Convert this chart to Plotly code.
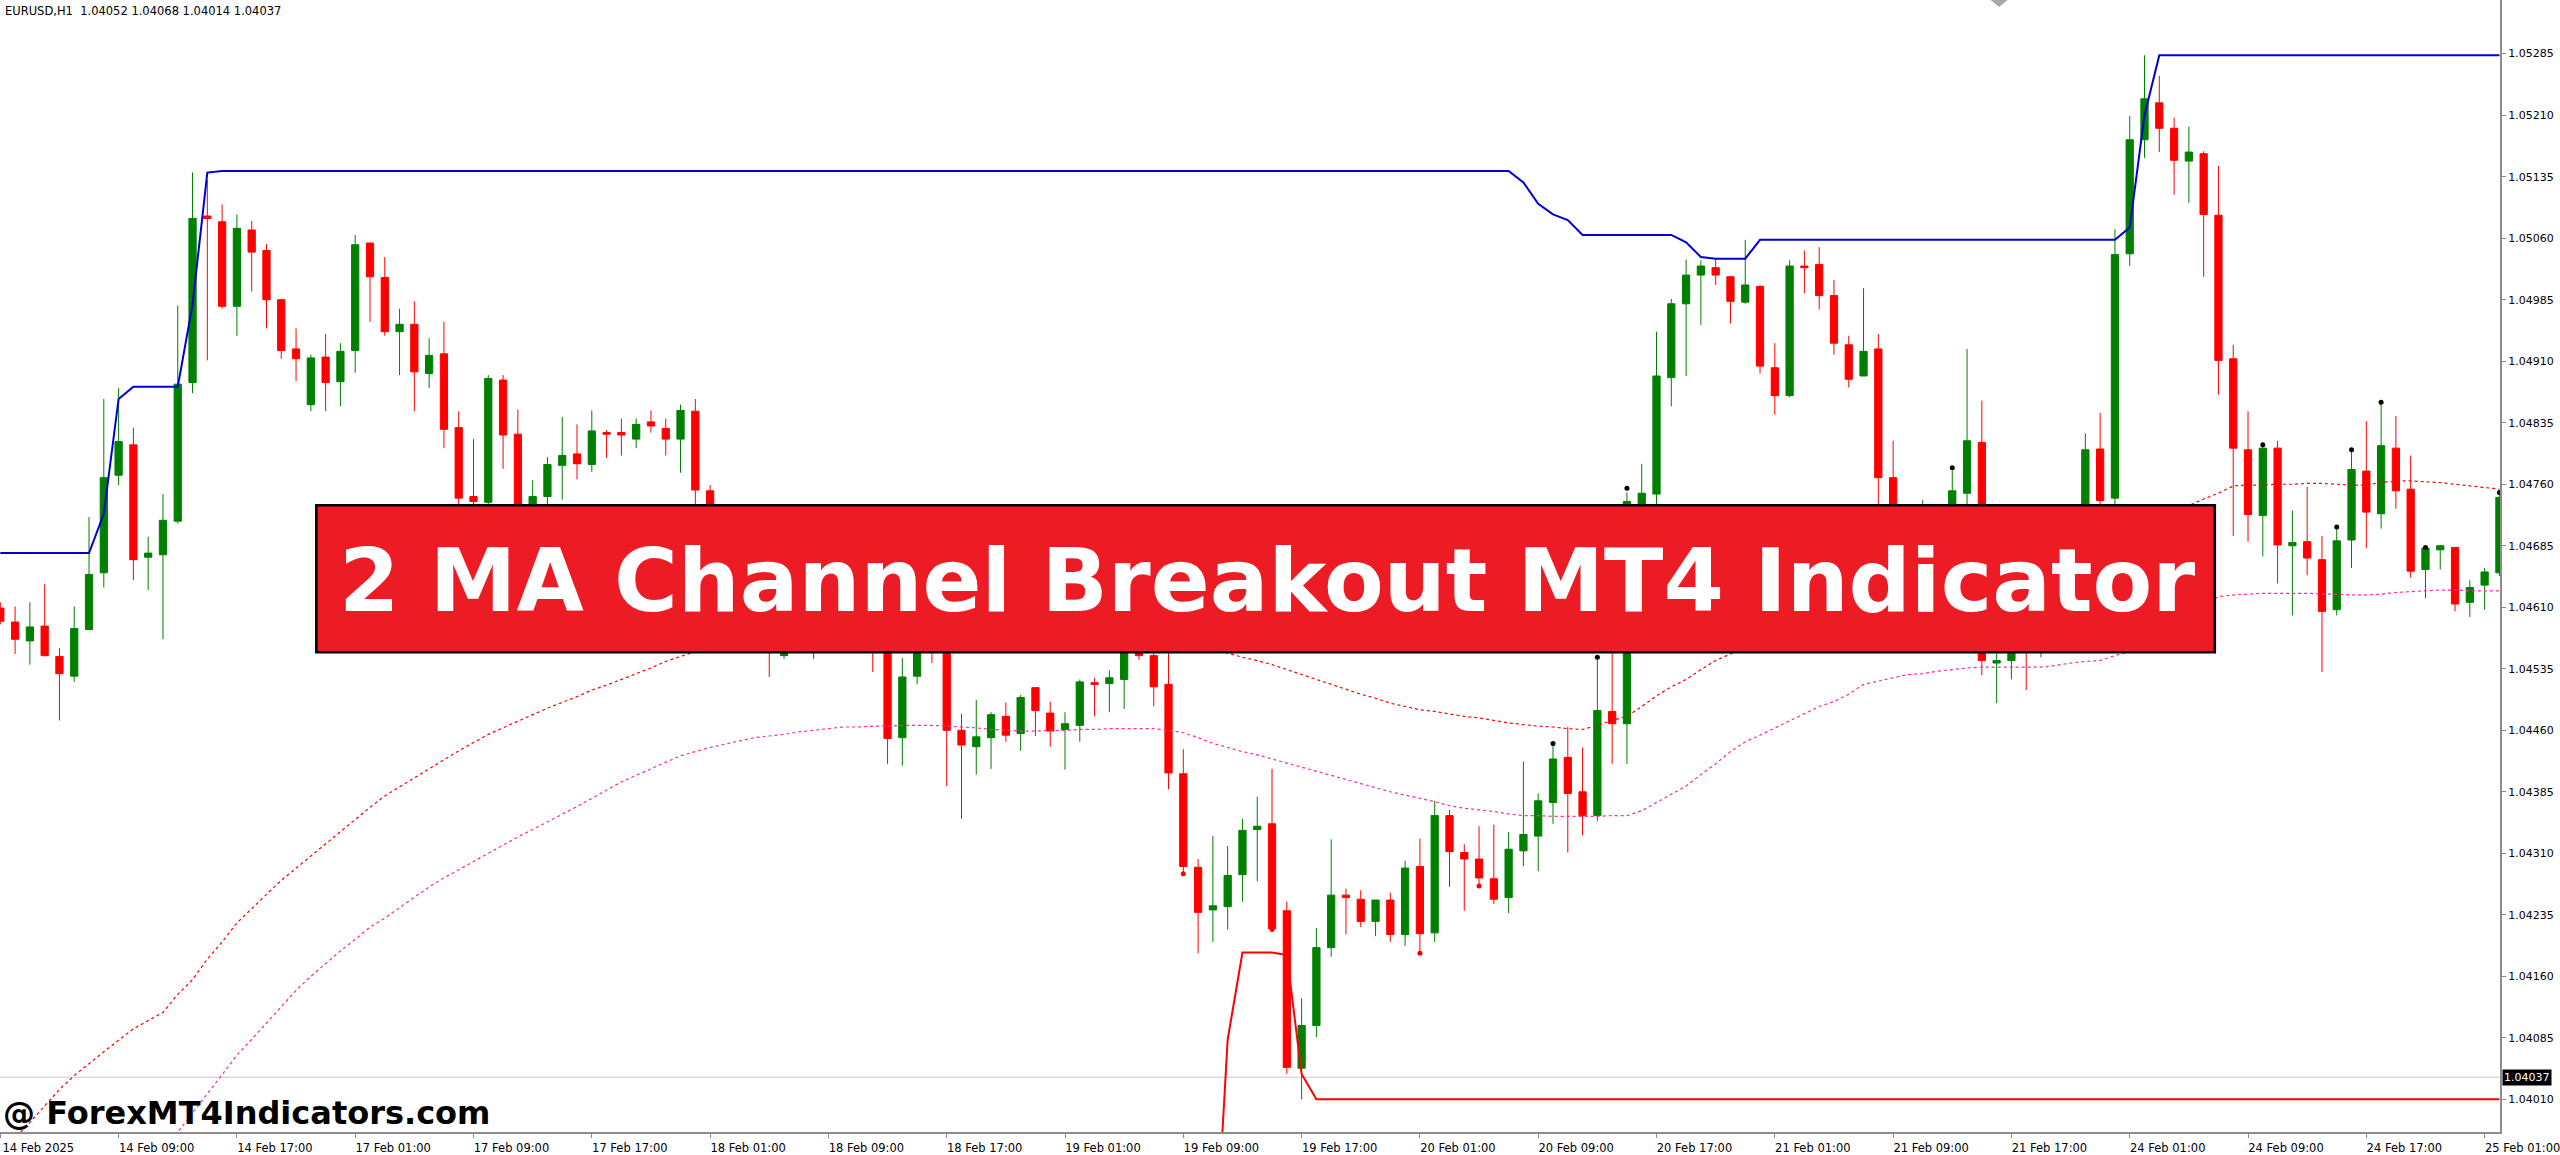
import plotly.graph_objects as go

# ---------------- data (EURUSD, H1) ----------------
open_ = [
    1.04609, 1.04592, 1.04569, 1.04587, 1.04550, 1.04526, 1.04583, 1.04652, 1.04771, 1.04808,
    1.04671, 1.04674, 1.04715, 1.04884, 1.05087, 1.05080, 1.04977, 1.05070, 1.05045, 1.04985,
    1.04925, 1.04857, 1.04915, 1.04885, 1.04923, 1.05054, 1.05012, 1.04946, 1.04955, 1.04895,
    1.04919, 1.04829, 1.04745, 1.04738, 1.04887, 1.04821, 1.04719, 1.04745, 1.04783, 1.04797,
    1.04784, 1.04823, 1.04823, 1.04815, 1.04836, 1.04828, 1.04815, 1.04849, 1.04752, 1.04706,
    1.04670, 1.04692, 1.04634, 1.04551, 1.04594, 1.04580, 1.04571, 1.04607, 1.04589, 1.04571,
    1.04562, 1.04451, 1.04526, 1.04580, 1.04562, 1.04460, 1.04440, 1.04451, 1.04477, 1.04456,
    1.04512, 1.04481, 1.04461, 1.04466, 1.04518, 1.04517, 1.04522, 1.04571, 1.04551, 1.04516,
    1.04407, 1.04293, 1.04241, 1.04245, 1.04284, 1.04339, 1.04346, 1.04240, 1.04048, 1.04100,
    1.04195, 1.04259, 1.04254, 1.04227, 1.04253, 1.04211, 1.04294, 1.04213, 1.04356, 1.04311,
    1.04303, 1.04279, 1.04256, 1.04313, 1.04331, 1.04372, 1.04427, 1.04385, 1.04356, 1.04483,
    1.04468, 1.04733, 1.04748, 1.04890, 1.04980, 1.05015, 1.05024, 1.05013, 1.04982, 1.05001,
    1.04902, 1.04868, 1.05026, 1.05028, 1.04990, 1.04930, 1.04892, 1.04925, 1.04768, 1.04706,
    1.04661, 1.04706, 1.04688, 1.04749, 1.04811, 1.04542, 1.04545, 1.04562, 1.04558, 1.04589,
    1.04643, 1.04607, 1.04803, 1.04743, 1.05041, 1.05180, 1.05225, 1.05194, 1.05154, 1.05163,
    1.05088, 1.04913, 1.04802, 1.04722, 1.04804, 1.04685, 1.04690, 1.04668, 1.04607, 1.04692,
    1.04776, 1.04724, 1.04804, 1.04754, 1.04656, 1.04680, 1.04683, 1.04616, 1.04637, 1.04652,
]
high = [
    1.04616, 1.04611, 1.04616, 1.04638, 1.04560, 1.04611, 1.04720, 1.04864, 1.04877, 1.04829,
    1.04696, 1.04748, 1.04978, 1.05140, 1.05131, 1.05101, 1.05089, 1.05081, 1.05053, 1.04985,
    1.04950, 1.04918, 1.04943, 1.04932, 1.05064, 1.05055, 1.05037, 1.04974, 1.04983, 1.04938,
    1.04958, 1.04849, 1.04815, 1.04893, 1.04893, 1.04851, 1.04765, 1.04793, 1.04842, 1.04833,
    1.04850, 1.04826, 1.04840, 1.04840, 1.04850, 1.04840, 1.04857, 1.04864, 1.04759, 1.04713,
    1.04701, 1.04699, 1.04643, 1.04607, 1.04616, 1.04594, 1.04621, 1.04621, 1.04603, 1.04585,
    1.04580, 1.04548, 1.04589, 1.04594, 1.04571, 1.04480, 1.04497, 1.04482, 1.04494, 1.04503,
    1.04512, 1.04495, 1.04482, 1.04522, 1.04524, 1.04533, 1.04571, 1.04580, 1.04567, 1.04562,
    1.04437, 1.04303, 1.04331, 1.04319, 1.04352, 1.04379, 1.04413, 1.04251, 1.04133, 1.04219,
    1.04327, 1.04267, 1.04265, 1.04253, 1.04262, 1.04301, 1.04328, 1.04374, 1.04363, 1.04321,
    1.04343, 1.04345, 1.04336, 1.04422, 1.04383, 1.04444, 1.04464, 1.04439, 1.04549, 1.04562,
    1.04750, 1.04785, 1.04946, 1.04986, 1.05034, 1.05033, 1.05034, 1.05013, 1.05058, 1.05003,
    1.04932, 1.05033, 1.05045, 1.05049, 1.05009, 1.04941, 1.04999, 1.04943, 1.04813, 1.04715,
    1.04741, 1.04724, 1.04777, 1.04925, 1.04862, 1.04580, 1.04580, 1.04589, 1.04603, 1.04652,
    1.04661, 1.04822, 1.04847, 1.05071, 1.05209, 1.05283, 1.05258, 1.05207, 1.05196, 1.05166,
    1.05148, 1.04930, 1.04849, 1.04808, 1.04813, 1.04728, 1.04757, 1.04697, 1.04708, 1.04802,
    1.04837, 1.04860, 1.04843, 1.04795, 1.04683, 1.04686, 1.04683, 1.04643, 1.04658, 1.04750,
]
low = [
    1.04589, 1.04553, 1.04540, 1.04550, 1.04472, 1.04519, 1.04582, 1.04634, 1.04759, 1.04643,
    1.04631, 1.04571, 1.04712, 1.04871, 1.04911, 1.04974, 1.04941, 1.04995, 1.04950, 1.04913,
    1.04886, 1.04849, 1.04849, 1.04855, 1.04896, 1.04958, 1.04941, 1.04893, 1.04849, 1.04877,
    1.04804, 1.04732, 1.04732, 1.04732, 1.04779, 1.04705, 1.04710, 1.04732, 1.04741, 1.04766,
    1.04775, 1.04792, 1.04795, 1.04804, 1.04823, 1.04795, 1.04774, 1.04723, 1.04687, 1.04656,
    1.04661, 1.04621, 1.04525, 1.04547, 1.04567, 1.04547, 1.04562, 1.04571, 1.04558, 1.04531,
    1.04419, 1.04417, 1.04516, 1.04542, 1.04392, 1.04352, 1.04406, 1.04413, 1.04446, 1.04435,
    1.04453, 1.04440, 1.04412, 1.04446, 1.04477, 1.04482, 1.04486, 1.04546, 1.04489, 1.04388,
    1.04285, 1.04188, 1.04202, 1.04217, 1.04251, 1.04276, 1.04215, 1.04041, 1.04010, 1.04086,
    1.04184, 1.04211, 1.04220, 1.04209, 1.04202, 1.04197, 1.04188, 1.04202, 1.04269, 1.04240,
    1.04270, 1.04248, 1.04237, 1.04294, 1.04288, 1.04346, 1.04311, 1.04332, 1.04349, 1.04419,
    1.04419, 1.04724, 1.04733, 1.04855, 1.04892, 1.04954, 1.05003, 1.04956, 1.04980, 1.04895,
    1.04845, 1.04866, 1.04993, 1.04973, 1.04918, 1.04878, 1.04892, 1.04733, 1.04688, 1.04652,
    1.04643, 1.04661, 1.04670, 1.04724, 1.04527, 1.04493, 1.04522, 1.04509, 1.04549, 1.04580,
    1.04589, 1.04598, 1.04724, 1.04733, 1.05026, 1.05158, 1.05165, 1.05113, 1.05103, 1.05013,
    1.04869, 1.04697, 1.04690, 1.04672, 1.04639, 1.04600, 1.04649, 1.04531, 1.04600, 1.04658,
    1.04682, 1.04706, 1.04730, 1.04646, 1.04621, 1.04656, 1.04605, 1.04598, 1.04607, 1.04648,
]
close = [
    1.04593, 1.04571, 1.04586, 1.04551, 1.04529, 1.04584, 1.04650, 1.04768, 1.04812, 1.04668,
    1.04676, 1.04716, 1.04882, 1.05084, 1.05084, 1.04977, 1.05072, 1.05043, 1.04985, 1.04923,
    1.04913, 1.04914, 1.04884, 1.04922, 1.05052, 1.05013, 1.04946, 1.04955, 1.04897, 1.04917,
    1.04827, 1.04743, 1.04739, 1.04889, 1.04820, 1.04723, 1.04745, 1.04784, 1.04795, 1.04785,
    1.04825, 1.04821, 1.04820, 1.04833, 1.04831, 1.04815, 1.04850, 1.04753, 1.04705, 1.04670,
    1.04692, 1.04634, 1.04558, 1.04594, 1.04580, 1.04571, 1.04607, 1.04589, 1.04571, 1.04562,
    1.04450, 1.04525, 1.04580, 1.04558, 1.04460, 1.04442, 1.04452, 1.04479, 1.04454, 1.04500,
    1.04484, 1.04459, 1.04468, 1.04519, 1.04516, 1.04524, 1.04561, 1.04551, 1.04513, 1.04408,
    1.04294, 1.04238, 1.04246, 1.04283, 1.04338, 1.04343, 1.04218, 1.04049, 1.04100, 1.04195,
    1.04259, 1.04256, 1.04227, 1.04253, 1.04211, 1.04292, 1.04212, 1.04356, 1.04312, 1.04303,
    1.04280, 1.04254, 1.04315, 1.04333, 1.04374, 1.04425, 1.04383, 1.04356, 1.04484, 1.04468,
    1.04739, 1.04749, 1.04892, 1.04980, 1.05015, 1.05026, 1.05015, 1.04983, 1.05003, 1.04904,
    1.04868, 1.05026, 1.05024, 1.04990, 1.04932, 1.04888, 1.04922, 1.04768, 1.04706, 1.04670,
    1.04706, 1.04688, 1.04752, 1.04813, 1.04545, 1.04545, 1.04562, 1.04558, 1.04589, 1.04643,
    1.04607, 1.04802, 1.04740, 1.05040, 1.05180, 1.05230, 1.05194, 1.05155, 1.05165, 1.05089,
    1.04911, 1.04804, 1.04723, 1.04804, 1.04686, 1.04689, 1.04670, 1.04605, 1.04691, 1.04778,
    1.04726, 1.04807, 1.04752, 1.04654, 1.04682, 1.04685, 1.04614, 1.04634, 1.04653, 1.04744,
]

# upper moving average (red dotted)
ma_upper = [
    1.03943, 1.03962, 1.03982, 1.04002, 1.04022, 1.04039, 1.04054, 1.04068, 1.04082, 1.04096,
    1.04106, 1.04116, 1.04138, 1.04156, 1.04181, 1.04202, 1.04225, 1.04243, 1.04260, 1.04277,
    1.04292, 1.04306, 1.04321, 1.04336, 1.04351, 1.04366, 1.04380, 1.04391, 1.04403, 1.04414,
    1.04425, 1.04435, 1.04445, 1.04455, 1.04463, 1.04471, 1.04479, 1.04487, 1.04494, 1.04501,
    1.04509, 1.04515, 1.04522, 1.04529, 1.04536, 1.04544, 1.04550, 1.04556, 1.04561, 1.04565,
    1.04570, 1.04574, 1.04579, 1.04583, 1.04588, 1.04591, 1.04594, 1.04597, 1.04598, 1.04600,
    1.04602, 1.04603, 1.04604, 1.04605, 1.04605, 1.04605, 1.04604, 1.04603, 1.04602, 1.04600,
    1.04598, 1.04596, 1.04593, 1.04590, 1.04588, 1.04584, 1.04580, 1.04577, 1.04573, 1.04570,
    1.04566, 1.04562, 1.04559, 1.04554, 1.04549, 1.04545, 1.04540, 1.04534, 1.04528, 1.04522,
    1.04516, 1.04510, 1.04504, 1.04499, 1.04493, 1.04489, 1.04485, 1.04483, 1.04480, 1.04477,
    1.04475, 1.04472, 1.04469, 1.04467, 1.04465, 1.04464, 1.04462, 1.04461, 1.04466, 1.04472,
    1.04477, 1.04489, 1.04502, 1.04513, 1.04522, 1.04534, 1.04545, 1.04553, 1.04562, 1.04571,
    1.04579, 1.04587, 1.04594, 1.04602, 1.04609, 1.04616, 1.04623, 1.04630, 1.04636, 1.04642,
    1.04648, 1.04654, 1.04659, 1.04664, 1.04668, 1.04673, 1.04677, 1.04682, 1.04686, 1.04690,
    1.04695, 1.04699, 1.04704, 1.04708, 1.04713, 1.04718, 1.04724, 1.04729, 1.04734, 1.04742,
    1.04749, 1.04758, 1.04759, 1.04759, 1.04760, 1.04760, 1.04761, 1.04761, 1.04760, 1.04759,
    1.04759, 1.04762, 1.04764, 1.04764, 1.04763, 1.04762, 1.04760, 1.04758, 1.04756, 1.04754,
]
# lower moving average (pink dotted)
ma_lower = [
    1.03687, 1.03710, 1.03733, 1.03757, 1.03781, 1.03805, 1.03828, 1.03852, 1.03876, 1.03900,
    1.03923, 1.03947, 1.03970, 1.03994, 1.04017, 1.04040, 1.04064, 1.04083, 1.04103, 1.04123,
    1.04143, 1.04160, 1.04176, 1.04191, 1.04205, 1.04220, 1.04231, 1.04244, 1.04256, 1.04269,
    1.04280, 1.04290, 1.04300, 1.04311, 1.04321, 1.04330, 1.04339, 1.04348, 1.04357, 1.04367,
    1.04377, 1.04387, 1.04397, 1.04405, 1.04413, 1.04421, 1.04429, 1.04434, 1.04439, 1.04443,
    1.04447, 1.04451, 1.04453, 1.04455, 1.04458, 1.04460, 1.04462, 1.04464, 1.04464, 1.04465,
    1.04465, 1.04466, 1.04466, 1.04466, 1.04465, 1.04464, 1.04463, 1.04461, 1.04460, 1.04459,
    1.04459, 1.04460, 1.04460, 1.04461, 1.04461, 1.04462, 1.04462, 1.04462, 1.04462, 1.04460,
    1.04457, 1.04451, 1.04444, 1.04439, 1.04434, 1.04430, 1.04425, 1.04420, 1.04415, 1.04410,
    1.04405, 1.04400, 1.04395, 1.04390, 1.04385, 1.04381, 1.04377, 1.04373, 1.04368, 1.04365,
    1.04363, 1.04361, 1.04358, 1.04356, 1.04356, 1.04355, 1.04355, 1.04355, 1.04355, 1.04356,
    1.04356, 1.04362, 1.04372, 1.04382, 1.04392, 1.04406, 1.04419, 1.04434, 1.04446, 1.04454,
    1.04463, 1.04472, 1.04481, 1.04489, 1.04495, 1.04504, 1.04516, 1.04520, 1.04524, 1.04528,
    1.04529, 1.04532, 1.04534, 1.04536, 1.04537, 1.04537, 1.04537, 1.04537, 1.04537, 1.04539,
    1.04542, 1.04544, 1.04545, 1.04551, 1.04556, 1.04567, 1.04579, 1.04590, 1.04602, 1.04613,
    1.04623, 1.04625, 1.04626, 1.04627, 1.04627, 1.04627, 1.04627, 1.04626, 1.04626, 1.04625,
    1.04625, 1.04626, 1.04628, 1.04629, 1.04630, 1.04631, 1.04631, 1.04630, 1.04630, 1.04630,
]
# upper channel (blue solid)
channel_high = [
    1.04676, 1.04676, 1.04676, 1.04676, 1.04676, 1.04676, 1.04676, 1.04724, 1.04864, 1.04879,
    1.04879, 1.04879, 1.04879, 1.04979, 1.05140, 1.05142, 1.05142, 1.05142, 1.05142, 1.05142,
    1.05142, 1.05142, 1.05142, 1.05142, 1.05142, 1.05142, 1.05142, 1.05142, 1.05142, 1.05142,
    1.05142, 1.05142, 1.05142, 1.05142, 1.05142, 1.05142, 1.05142, 1.05142, 1.05142, 1.05142,
    1.05142, 1.05142, 1.05142, 1.05142, 1.05142, 1.05142, 1.05142, 1.05142, 1.05142, 1.05142,
    1.05142, 1.05142, 1.05142, 1.05142, 1.05142, 1.05142, 1.05142, 1.05142, 1.05142, 1.05142,
    1.05142, 1.05142, 1.05142, 1.05142, 1.05142, 1.05142, 1.05142, 1.05142, 1.05142, 1.05142,
    1.05142, 1.05142, 1.05142, 1.05142, 1.05142, 1.05142, 1.05142, 1.05142, 1.05142, 1.05142,
    1.05142, 1.05142, 1.05142, 1.05142, 1.05142, 1.05142, 1.05142, 1.05142, 1.05142, 1.05142,
    1.05142, 1.05142, 1.05142, 1.05142, 1.05142, 1.05142, 1.05142, 1.05142, 1.05142, 1.05142,
    1.05142, 1.05142, 1.05142, 1.05128, 1.05102, 1.05089, 1.05082, 1.05064, 1.05064, 1.05064,
    1.05064, 1.05064, 1.05064, 1.05064, 1.05055, 1.05037, 1.05035, 1.05035, 1.05035, 1.05058,
    1.05058, 1.05058, 1.05058, 1.05058, 1.05058, 1.05058, 1.05058, 1.05058, 1.05058, 1.05058,
    1.05058, 1.05058, 1.05058, 1.05058, 1.05058, 1.05058, 1.05058, 1.05058, 1.05058, 1.05058,
    1.05058, 1.05058, 1.05058, 1.05058, 1.05073, 1.05210, 1.05283, 1.05283, 1.05283, 1.05283,
    1.05283, 1.05283, 1.05283, 1.05283, 1.05283, 1.05283, 1.05283, 1.05283, 1.05283, 1.05283,
    1.05283, 1.05283, 1.05283, 1.05283, 1.05283, 1.05283, 1.05283, 1.05283, 1.05283, 1.05283,
]
# lower channel (red solid), only drawn from bar 82 on
channel_low = [None] * 82 + [
    1.03764, 1.04083, 1.04189, 1.04189, 1.04189, 1.04186, 1.04041, 1.04010,
    1.04010, 1.04010, 1.04010, 1.04010, 1.04010, 1.04010, 1.04010, 1.04010, 1.04010, 1.04010,
    1.04010, 1.04010, 1.04010, 1.04010, 1.04010, 1.04010, 1.04010, 1.04010, 1.04010, 1.04010,
    1.04010, 1.04010, 1.04010, 1.04010, 1.04010, 1.04010, 1.04010, 1.04010, 1.04010, 1.04010,
    1.04010, 1.04010, 1.04010, 1.04010, 1.04010, 1.04010, 1.04010, 1.04010, 1.04010, 1.04010,
    1.04010, 1.04010, 1.04010, 1.04010, 1.04010, 1.04010, 1.04010, 1.04010, 1.04010, 1.04010,
    1.04010, 1.04010, 1.04010, 1.04010, 1.04010, 1.04010, 1.04010, 1.04010, 1.04010, 1.04010,
    1.04010, 1.04010, 1.04010, 1.04010, 1.04010, 1.04010, 1.04010, 1.04010, 1.04010, 1.04010,
    1.04010, 1.04010, 1.04010, 1.04010, 1.04010, 1.04010, 1.04010, 1.04010, 1.04010, 1.04010,
]

# signal dots
up_dot_bars = [105, 108, 110, 132, 153, 158, 159, 161, 164, 169]
up_dot_price = [1.04444, 1.04549, 1.04755, 1.04780, 1.04808, 1.04708, 1.04802, 1.04860, 1.04683, 1.04750]
down_dot_bars = [80, 86, 96, 100]
down_dot_price = [1.04285, 1.04217, 1.04188, 1.04270]

# axis labels
time_labels = [
    "14 Feb 2025", "14 Feb 09:00", "14 Feb 17:00", "17 Feb 01:00", "17 Feb 09:00",
    "17 Feb 17:00", "18 Feb 01:00", "18 Feb 09:00", "18 Feb 17:00", "19 Feb 01:00",
    "19 Feb 09:00", "19 Feb 17:00", "20 Feb 01:00", "20 Feb 09:00", "20 Feb 17:00",
    "21 Feb 01:00", "21 Feb 09:00", "21 Feb 17:00", "24 Feb 01:00", "24 Feb 09:00",
    "24 Feb 17:00", "25 Feb 01:00",
]
time_label_bars = list(range(0, 8 * len(time_labels), 8))
price_labels = [
    "1.05285", "1.05210", "1.05135", "1.05060", "1.04985", "1.04910", "1.04835",
    "1.04760", "1.04685", "1.04610", "1.04535", "1.04460", "1.04385", "1.04310",
    "1.04235", "1.04160", "1.04085", "1.04010",
]
bid_price = 1.04037
header_text = "EURUSD,H1\u00a0 1.04052 1.04068 1.04014 1.04037"
banner_text = "2 MA Channel Breakout MT4 Indicator"
watermark_text = "@ ForexMT4Indicators.com"

bars = list(range(len(open_)))

# ---------------- figure ----------------
fig = go.Figure()

fig.add_trace(go.Candlestick(
    x=bars, open=open_, high=high, low=low, close=close,
    increasing=dict(line=dict(color="#008000", width=1), fillcolor="#008000"),
    decreasing=dict(line=dict(color="#ff0000", width=1), fillcolor="#ff0000"),
    whiskerwidth=0, hoverinfo="skip", showlegend=False,
))
fig.add_trace(go.Scatter(x=bars, y=ma_upper, mode="lines",
                         line=dict(color="#ff0000", width=1.2, dash="dot"),
                         hoverinfo="skip", showlegend=False))
fig.add_trace(go.Scatter(x=bars, y=ma_lower, mode="lines",
                         line=dict(color="#ff2a9e", width=1.2, dash="dot"),
                         hoverinfo="skip", showlegend=False))
fig.add_trace(go.Scatter(x=bars, y=channel_high, mode="lines",
                         line=dict(color="#0000d0", width=2),
                         hoverinfo="skip", showlegend=False))
fig.add_trace(go.Scatter(x=bars, y=channel_low, mode="lines",
                         line=dict(color="#ff0000", width=2),
                         hoverinfo="skip", showlegend=False))
fig.add_trace(go.Scatter(x=up_dot_bars, y=up_dot_price, mode="markers",
                         marker=dict(color="black", size=5, symbol="circle"),
                         hoverinfo="skip", showlegend=False))
fig.add_trace(go.Scatter(x=down_dot_bars, y=down_dot_price, mode="markers",
                         marker=dict(color="#ff0000", size=5, symbol="circle"),
                         hoverinfo="skip", showlegend=False))

W, H = 2560, 1155
plot_w, plot_h = 2503, 1135

shapes = [
    # bid line
    dict(type="line", xref="paper", x0=0, x1=1, yref="y", y0=bid_price, y1=bid_price,
         line=dict(color="#c8c8c8", width=1), layer="below"),
    # chart-shift marker
    dict(type="path", xref="paper", yref="paper",
         path=f"M {1993/plot_w},1 L {2010/plot_w},1 L {2001.5/plot_w},{1-7/plot_h} Z",
         fillcolor="#a8a8a8", line=dict(width=0), layer="above"),
    # title banner
    dict(type="rect", xref="paper", yref="paper",
         x0=316.7 / plot_w, x1=2217.5 / plot_w,
         y0=1 - 654 / plot_h, y1=1 - 506.7 / plot_h,
         fillcolor="#ed1c24", line=dict(color="black", width=2.5), layer="above"),
]

annotations = [
    dict(text=header_text, xref="paper", yref="paper", x=3 / plot_w, y=1 - 11 / plot_h,
         xanchor="left", yanchor="middle", showarrow=False,
         font=dict(family="DejaVu Sans", size=11.5, color="black")),
    dict(text="<b>" + banner_text + "</b>", xref="paper", yref="paper",
         x=1269 / plot_w, y=1 - 583 / plot_h, xanchor="center", yanchor="middle",
         showarrow=False, font=dict(family="DejaVu Sans", size=87, color="white")),
    dict(text="<b>" + watermark_text + "</b>", xref="paper", yref="paper",
         x=1 / plot_w, y=1 - 1116 / plot_h, xanchor="left", yanchor="middle",
         showarrow=False, font=dict(family="DejaVu Sans", size=32, color="black")),
    dict(text=f"{bid_price:.5f}", xref="paper", yref="y", x=1, xshift=2, y=bid_price,
         xanchor="left", yanchor="middle", showarrow=False, bgcolor="black", borderpad=1,
         font=dict(family="DejaVu Sans", size=11, color="white")),
]

fig.update_layout(
    width=W, height=H,
    margin=dict(l=0, r=W - plot_w, t=0, b=H - plot_h, pad=0),
    paper_bgcolor="white", plot_bgcolor="white",
    showlegend=False,
    shapes=shapes, annotations=annotations,
    xaxis=dict(
        range=[-0.02, 169.04], rangeslider=dict(visible=False),
        showgrid=False, zeroline=False,
        showline=True, linecolor="#8c8c8c", linewidth=2,
        tickmode="array", tickvals=time_label_bars, ticktext=time_labels,
        ticks="outside", ticklen=4, tickcolor="#8c8c8c", tickwidth=1,
        ticklabelshift=38, ticklabelstandoff=0, ticklabeloverflow="allow",
        tickfont=dict(family="DejaVu Sans", size=11.5, color="black"),
        fixedrange=True,
    ),
    yaxis=dict(
        side="right", range=[1.039702, 1.053504],
        showgrid=False, zeroline=False,
        showline=True, linecolor="#8c8c8c", linewidth=2,
        tickmode="array", tickvals=[float(s) for s in price_labels], ticktext=price_labels,
        ticks="outside", ticklen=4, tickcolor="#8c8c8c", tickwidth=1,
        tickfont=dict(family="DejaVu Sans", size=11, color="black"),
        fixedrange=True,
    ),
)

fig.write_html("out.html", config={"displayModeBar": False},
               post_script="document.body.style.margin='0';")
